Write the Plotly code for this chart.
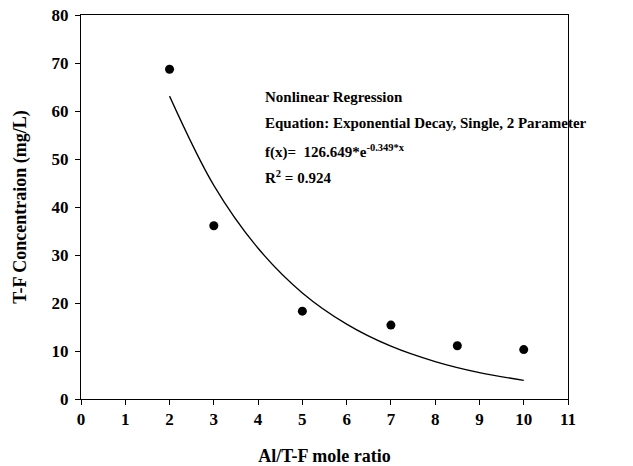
import plotly.graph_objects as go

# Measured data
x_data = [2, 3, 5, 7, 8.5, 10]
y_data = [68.7, 36.1, 18.3, 15.4, 11.1, 10.3]

# Fitted curve
curve_x = [2, 3, 4, 5, 6, 7, 8, 9, 10]
curve_y = [63.1, 44.5, 31.4, 22.1, 15.6, 11.0, 7.8, 5.5, 3.9]

x_ticks = list(range(0, 12))
y_ticks = list(range(0, 90, 10))

FONT = "Liberation Serif"

fig = go.Figure()
fig.add_trace(go.Scatter(x=curve_x, y=curve_y, mode="lines",
                         line=dict(color="black", width=1.3, shape="spline", smoothing=1.0),
                         showlegend=False, hoverinfo="skip"))
fig.add_trace(go.Scatter(x=x_data, y=y_data, mode="markers",
                         marker=dict(color="black", size=9),
                         showlegend=False))

lines = [
    ("<b>Nonlinear Regression</b>", 62.9),
    ("<b>Equation: Exponential Decay, Single, 2 Parameter</b>", 57.5),
    ("<b>f(x)=  126.649*e<sup>-0.349*x</sup></b>", 51.6),
    ("<b>R<sup>2</sup> = 0.924</b>", 46.2),
]
for text, yv in lines:
    fig.add_annotation(x=4.12, y=yv, xref="x", yref="y", text=text, showarrow=False,
                       xanchor="left", yanchor="middle",
                       font=dict(family=FONT, size=15, color="black"))

axis_common = dict(showgrid=False, zeroline=False, showline=True, linecolor="black",
                   linewidth=1, mirror=True, ticks="outside", ticklen=5, tickcolor="black",
                   automargin=False,
                   tickfont=dict(family=FONT, size=17, color="black"))

fig.update_xaxes(range=[0, 11], tickvals=x_ticks,
                 ticktext=[f"<b>{v}</b>" for v in x_ticks],
                 title=dict(text="<b>Al/T-F mole ratio</b>",
                            font=dict(family=FONT, size=18, color="black"), standoff=20),
                 **axis_common)
fig.update_yaxes(range=[0, 80], tickvals=y_ticks,
                 ticktext=[f"<b>{v}</b>" for v in y_ticks],
                 ticklabelstandoff=3,
                 title=dict(text="<b>T-F Concentraion (mg/L)</b>",
                            font=dict(family=FONT, size=18, color="black"), standoff=20),
                 **axis_common)

fig.update_layout(width=633, height=466,
                  margin=dict(l=81, r=65, t=15, b=67),
                  paper_bgcolor="white", plot_bgcolor="white",
                  font=dict(family=FONT, color="black"))

fig.write_html("out.html")
